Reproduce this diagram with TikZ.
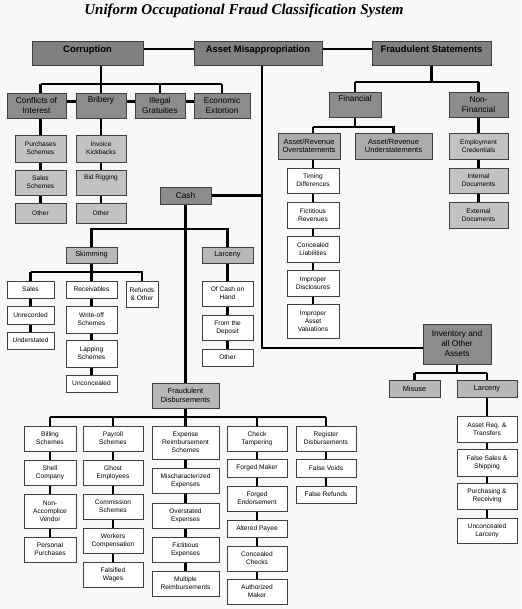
\documentclass[tikz,border=0pt]{standalone}
\usepackage{fontspec}
\setmainfont{Liberation Serif}
\setsansfont{Liberation Sans}
\pgfdeclarelayer{back}
\pgfdeclarelayer{bg}
\pgfsetlayers{back,bg,main}
\definecolor{bgc}{HTML}{F8F8F8}
\definecolor{dk}{HTML}{808080}
\definecolor{md}{HTML}{8C8C8C}
\definecolor{mg}{HTML}{ACACAC}
\definecolor{lg}{HTML}{B8B8B8}
\definecolor{lb}{HTML}{C2C2C2}
\definecolor{edge}{HTML}{404040}
\newcommand\bx[7]{%
  \pgfmathsetmacro\bxw{#4-#2}\pgfmathsetmacro\bxh{#5-#3}%
  \node[#6, minimum width=\bxw pt, minimum height=\bxh pt] (#1) at ({(#2+#4)/2},{(#3+#5)/2}) {#7};}
\begin{document}
\begin{tikzpicture}[x=1pt,y=-1pt,
  boxbase/.style={draw=edge, line width=0.7pt, inner sep=0pt, align=center, font=\sffamily},
  topbox/.style={boxbase, fill=dk, text height=7pt, text depth=7pt, font=\sffamily\bfseries\fontsize{9.4}{11}\selectfont},
  secbox/.style={boxbase, fill=md, font=\sffamily\fontsize{8.3}{10}\selectfont},
  midbox/.style={boxbase, fill=lg, font=\sffamily\fontsize{7.4}{8.6}\selectfont},
  arbox/.style={boxbase, fill=mg, font=\sffamily\fontsize{7.5}{8.6}\selectfont},
  lgbox/.style={boxbase, fill=lb, font=\sffamily\fontsize{6.6}{7.8}\selectfont},
  wbox/.style={boxbase, fill=white, font=\sffamily\fontsize{6.6}{7.8}\selectfont},
  conn/.style={line width=2.2pt, black}]
\useasboundingbox (0,0) rectangle (521,609);
\begin{pgfonlayer}{back}
\fill[bgc] (0,0) rectangle (521,609);
\end{pgfonlayer}
\node[font=\rmfamily\bfseries\itshape\fontsize{15}{17}\selectfont] (title) at (244,11) {Uniform Occupational Fraud Classification System};
% top row
\bx{corr}{32}{41}{143}{65}{topbox}{Corruption}
\bx{am}{194}{41}{322}{65}{topbox}{Asset Misappropriation}
\bx{fs}{372}{41}{491}{65}{topbox}{Fraudulent Statements}
% corruption
\bx{coi}{7}{93}{66}{118}{secbox}{Conflicts of\\Interest}
\bx{bri}{76}{93}{126}{118}{secbox}{Bribery\\\strut}
\bx{ill}{135}{93}{185}{118}{secbox}{Illegal\\Gratuities}
\bx{eco}{194}{93}{250}{118}{secbox}{Economic\\Extortion}
\bx{pur}{15}{135}{66}{162}{lgbox}{Purchases\\Schemes}
\bx{sal}{15}{170}{66}{195}{lgbox}{Sales\\Schemes}
\bx{oth1}{15}{203}{66}{223}{lgbox}{Other}
\bx{ivk}{76}{135}{126}{162}{lgbox}{Invoice\\Kickbacks}
\bx{bid}{76}{170}{126}{195}{lgbox}{Bid Rigging\\\strut}
\bx{oth2}{76}{203}{126}{223}{lgbox}{Other}
% cash
\bx{cash}{160}{187}{211}{204}{secbox}{Cash}
\bx{skim}{66}{247}{117}{263}{midbox}{Skimming}
\bx{larc}{202}{247}{253}{263}{midbox}{Larceny}
\bx{sales}{7}{281}{54}{298}{wbox}{Sales}
\bx{unr}{7}{306}{54}{324}{wbox}{Unrecorded}
\bx{und}{7}{332}{54}{349}{wbox}{Understated}
\bx{recv}{66}{281}{117}{298}{wbox}{Receivables}
\bx{wo}{66}{306}{117}{333}{wbox}{Write-off\\Schemes}
\bx{lap}{66}{340}{117}{367}{wbox}{Lapping\\Schemes}
\bx{unc}{66}{375}{117}{392}{wbox}{Unconcealed}
\bx{ref}{126}{281}{158}{307}{wbox}{Refunds\\\& Other}
\bx{och}{202}{281}{253}{306}{wbox}{Of Cash on\\Hand}
\bx{ftd}{202}{315}{253}{340}{wbox}{From the\\Deposit}
\bx{oth3}{202}{349}{253}{366}{wbox}{Other}
% fraudulent disbursements
\bx{fd}{152}{383}{219}{408}{midbox}{Fraudulent\\Disbursements}
\bx{bill}{24}{426}{76}{451}{wbox}{Billing\\Schemes}
\bx{shell}{24}{460}{76}{485}{wbox}{Shell\\Company}
\bx{nonacc}{24}{494}{76}{528}{wbox}{Non-\\Accomplice\\Vendor}
\bx{pers}{24}{537}{76}{562}{wbox}{Personal\\Purchases}
\bx{pay}{83}{426}{143}{451}{wbox}{Payroll\\Schemes}
\bx{ghost}{83}{460}{143}{485}{wbox}{Ghost\\Employees}
\bx{comm}{83}{494}{143}{519}{wbox}{Commission\\Schemes}
\bx{work}{83}{528}{143}{553}{wbox}{Workers\\Compensation}
\bx{fals}{83}{562}{143}{587}{wbox}{Falsified\\Wages}
\bx{exp}{152}{426}{219}{459}{wbox}{Expense\\Reimbursement\\Schemes}
\bx{misc}{152}{468}{219}{493}{wbox}{Mischaracterized\\Expenses}
\bx{ovr}{152}{503}{219}{528}{wbox}{Overstated\\Expenses}
\bx{fic}{152}{537}{219}{562}{wbox}{Fictitious\\Expenses}
\bx{mul}{152}{571}{219}{596}{wbox}{Multiple\\Reimbursements}
\bx{chk}{227}{426}{287}{451}{wbox}{Check\\Tampering}
\bx{fm}{227}{459}{287}{477}{wbox}{Forged Maker}
\bx{fe}{227}{486}{287}{511}{wbox}{Forged\\Endorsement}
\bx{ap}{227}{520}{287}{537}{wbox}{Altered Payee}
\bx{cc}{227}{546}{287}{571}{wbox}{Concealed\\Checks}
\bx{amk}{227}{579}{287}{604}{wbox}{Authorized\\Maker}
\bx{reg}{296}{426}{356}{451}{wbox}{Register\\Disbursements}
\bx{fv}{296}{459}{356}{477}{wbox}{False Voids}
\bx{frf}{296}{486}{356}{503}{wbox}{False Refunds}
% fraudulent statements
\bx{fin}{329}{92}{381}{117}{secbox}{Financial\\\strut}
\bx{nfin}{449}{92}{508}{117}{secbox}{Non-\\Financial}
\bx{aro}{278}{133}{340}{159}{arbox}{Asset/Revenue\\Overstatements}
\bx{aru}{355}{133}{432}{159}{arbox}{Asset/Revenue\\Understatements}
\bx{td}{287}{168}{339}{193}{wbox}{Timing\\Differences}
\bx{frv}{287}{202}{339}{228}{wbox}{Fictitious\\Revenues}
\bx{cl}{287}{236}{339}{262}{wbox}{Concealed\\Liabilities}
\bx{idis}{287}{270}{339}{296}{wbox}{Improper\\Disclosures}
\bx{iav}{287}{304}{339}{338}{wbox}{Improper\\Asset\\Valuations}
\bx{ec}{449}{133}{508}{159}{lgbox}{Employment\\Credentials}
\bx{idoc}{449}{168}{508}{193}{lgbox}{Internal\\Documents}
\bx{edoc}{449}{202}{508}{228}{lgbox}{External\\Documents}
% inventory
\bx{invo}{423}{324}{491}{364}{secbox}{Inventory and\\all Other\\Assets}
\bx{mis}{389}{380}{440}{397}{midbox}{Misuse}
\bx{larc2}{457}{380}{517}{397}{midbox}{Larceny}
\bx{arq}{457}{416}{517}{442}{wbox}{Asset Req. \&\\Transfers}
\bx{fss}{457}{449}{517}{476}{wbox}{False Sales \&\\Shipping}
\bx{pr}{457}{483}{517}{509}{wbox}{Purchasing \&\\Receiving}
\bx{ul}{457}{518}{517}{543}{wbox}{Unconcealed\\Larceny}
% bar coordinates
\coordinate (cbar) at (0,84);
\coordinate (cashbar) at (0,229);
\coordinate (skbar) at (0,272);
\coordinate (fdbar) at (0,417);
\coordinate (fsbar) at (0,82);
\coordinate (finbar) at (0,127);
\coordinate (invbar) at (0,373);
\coordinate (amx) at ([xshift=4pt]am.south);
\begin{pgfonlayer}{bg}
\draw[conn] ([yshift=4pt]corr.east) -- ([yshift=4pt]am.west);
\draw[conn] ([yshift=4pt]am.east) -- ([yshift=4pt]fs.west);
% corruption tree
\draw[conn] (ivk.north |- corr.south) -- (oth2.north);
\draw[conn] (pur.north |- cbar) -- (eco.north |- cbar);
\draw[conn] (pur.north |- cbar) -- (oth1.north);
\draw[conn] (ill.north |- cbar) -- (ill.north);
\draw[conn] (eco.north |- cbar) -- (eco.north);
\draw[conn] ([yshift=4pt]coi.east) -- ([yshift=4pt]bri.west);
\draw[conn] ([yshift=4pt]bri.east) -- ([yshift=4pt]ill.west);
\draw[conn] ([yshift=4pt]ill.east) -- ([yshift=4pt]eco.west);
% asset misappropriation
\draw[conn] (amx) |- ([yshift=-4pt]invo.west);
\draw[conn] (cash.east) -- (cash.east -| amx);
\draw[conn] (cash.south) -- (fd.north);
\draw[conn] (skim.north) |- (larc.north |- cashbar) -- (larc.north);
\draw[conn] (larc.south) -- (oth3.north);
\draw[conn] (skim.south) -- (unc.north);
\draw[conn] (sales.north |- skbar) -- (ref.north |- skbar) -- (ref.north);
\draw[conn] (sales.north |- skbar) -- (und.north);
% fraudulent disbursements
\draw[conn] (fd.south) -- (fd.south |- fdbar);
\draw[conn] (bill.north |- fdbar) -- (reg.north |- fdbar);
\draw[conn] (bill.north |- fdbar) -- (pers.north);
\draw[conn] (pay.north |- fdbar) -- (fals.north);
\draw[conn] (exp.north |- fdbar) -- (mul.north);
\draw[conn] (chk.north |- fdbar) -- (amk.north);
\draw[conn] (reg.north |- fdbar) -- (frf.north);
% fraudulent statements
\draw[conn] (fs.south) -- (fs.south |- fsbar);
\draw[conn] (fin.north |- fsbar) -- (nfin.north |- fsbar);
\draw[conn] (fin.north |- fsbar) -- (fin.north);
\draw[conn] (nfin.north |- fsbar) -- (edoc.north);
\draw[conn] (fin.south) -- (fin.south |- finbar);
\draw[conn] (td.north |- finbar) -- (aru.north |- finbar) -- (aru.north);
\draw[conn] (td.north |- finbar) -- (iav.north);
% inventory
\draw[conn] (invo.south) -- (invo.south |- invbar);
\draw[conn] (mis.north |- invbar) -- (larc2.north |- invbar);
\draw[conn] (mis.north |- invbar) -- (mis.north);
\draw[conn] (larc2.north |- invbar) -- (ul.north);
\end{pgfonlayer}
\end{tikzpicture}
\end{document}
